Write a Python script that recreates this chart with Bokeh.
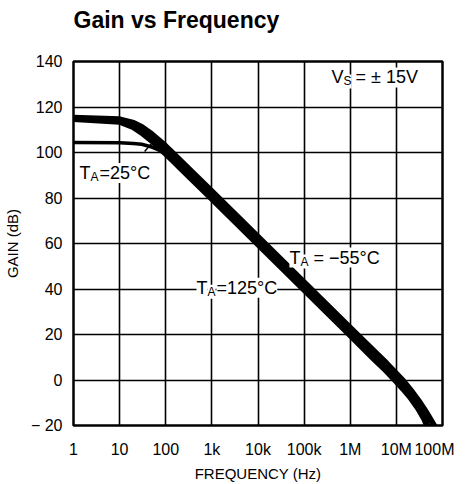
from bokeh.plotting import figure
from bokeh.models import FixedTicker, Label, Range1d
from bokeh.embed import file_html
from bokeh.resources import INLINE

# ---- data ----
freq_m55 = [1, 10, 20, 30, 50, 70, 100, 150, 200, 1e3, 1e4, 1e5, 1e6, 3e6, 6e6, 1e7, 1.4e7, 2e7, 3e7, 4e7, 5e7, 7e7, 1e8]
gain_m55 = [115.3, 114.6, 113.0, 111.2, 108.0, 105.5, 102.7, 99.3, 96.8, 82.9, 62.9, 42.9, 22.9, 13.4, 7.5, 2.7, -0.4, -4.2, -9.0, -12.8, -16.0, -21.0, -26.0]

freq_125 = [1, 10, 20, 30, 50, 70, 100, 150, 200, 1e3, 1e4, 1e5, 1e6, 3e6, 6e6, 9.5e6, 1.4e7, 2e7, 3e7, 4e7, 4.5e7, 6e7]
gain_125 = [114.7, 113.5, 111.1, 108.7, 105.1, 102.4, 99.4, 96.0, 93.5, 79.6, 59.6, 39.6, 19.6, 10.0, 4.1, -0.2, -3.9, -7.6, -12.6, -17.0, -19.5, -24.0]

freq_25 = [1, 10, 20, 30, 50, 70, 100, 150, 200, 1e3, 1e4, 1e5, 1e6, 1e7, 2e7, 3e7, 5e7]
gain_25 = [104.4, 104.3, 104.0, 103.6, 102.4, 101.1, 99.2, 96.5, 94.3, 80.8, 60.8, 40.8, 20.8, 0.5, -6.0, -11.0, -19.0]

x_ticks = [1, 10, 100, 1e3, 1e4, 1e5, 1e6, 1e7, 1e8]
x_tick_labels = ["1", "10", "100", "1k", "10k", "100k", "1M", "10M", "100M"]
y_ticks = [-20, 0, 20, 40, 60, 80, 100, 120, 140]
y_tick_labels = ["\u2212 20", "0", "20", "40", "60", "80", "100", "120", "140"]

# annotation texts and anchors (freq, gain)
ann_main = ["T", "T", "T", "V"]
ann_sub = ["A", "A", "A", "S"]
ann_rest = ["=25\u00b0C", "= \u221255\u00b0C", "=125\u00b0C", "= \u00b1 15V"]
ann_gap = [0, 4, 0, 3]
ann_x = [1.35, 48e3, 464, 393e3]
ann_y = [91.0, 53.8, 40.6, 133.0]

leader_x = [34.8, 49.0]
leader_y = [100.4, 103.9]

FONT = "Liberation Sans"

p = figure(
    frame_width=369, frame_height=364,
    x_axis_type="log",
    x_range=Range1d(1, 1e8), y_range=Range1d(-20, 140),
    output_backend="svg", toolbar_location=None,
    min_border_left=72, min_border_right=12, min_border_top=0, min_border_bottom=0,
    background_fill_color="white", border_fill_color="white",
    margin=(-25, 0, 0, 0),
)

p.title.text = "Gain vs Frequency"
p.title.text_font = FONT
p.title.text_font_style = "bold"
p.title.text_font_size = "23px"
p.title.text_color = "black"
p.title.align = "left"
p.title.offset = 0
p.title.standoff = 58
p.title.text_line_height = 1.0

p.xaxis.ticker = FixedTicker(ticks=x_ticks, minor_ticks=[])
p.xaxis.major_label_overrides = {t: l for t, l in zip(x_ticks, x_tick_labels)}
p.yaxis.ticker = FixedTicker(ticks=y_ticks, minor_ticks=[])
p.yaxis.major_label_overrides = {t: l for t, l in zip(y_ticks, y_tick_labels)}

p.xaxis.axis_label = "FREQUENCY (Hz)"
p.yaxis.axis_label = "GAIN (dB)"

for ax in (p.xaxis, p.yaxis):
    ax.axis_line_color = None
    ax.major_tick_line_color = None
    ax.minor_tick_line_color = None
    ax.major_tick_out = 0
    ax.major_tick_in = 0
    ax.major_label_text_font = FONT
    ax.major_label_text_font_size = "16px"
    ax.major_label_text_color = "black"
    ax.axis_label_text_font = FONT
    ax.axis_label_text_font_size = "15px"
    ax.axis_label_text_font_style = "normal"
    ax.axis_label_text_color = "black"

p.xaxis.major_label_standoff = 15
p.xaxis.axis_label_standoff = 4
p.yaxis.major_label_standoff = 11
p.yaxis.axis_label_standoff = 7

for g in (p.xgrid, p.ygrid):
    g.grid_line_color = "black"
    g.grid_line_width = 1.6
    g.grid_line_alpha = 1.0
p.xgrid.ticker = FixedTicker(ticks=x_ticks, minor_ticks=[])
p.ygrid.ticker = FixedTicker(ticks=y_ticks, minor_ticks=[])

p.outline_line_color = "black"
p.outline_line_width = 2.5

p.line(freq_25, gain_25, line_width=3.5, color="black", line_join="round")
p.line(freq_125, gain_125, line_width=6, color="black", line_join="round")
p.line(freq_m55, gain_m55, line_width=6, color="black", line_join="round")

p.segment(x0=[leader_x[0]], y0=[leader_y[0]], x1=[leader_x[1]], y1=[leader_y[1]],
          line_width=1.5, color="black")

for m, s, r, gap, x, y in zip(ann_main, ann_sub, ann_rest, ann_gap, ann_x, ann_y):
    w = 11 if m == "T" else 12
    p.add_layout(Label(x=x, y=y, text=m, text_font=FONT, text_font_size="18px",
                       text_baseline="alphabetic", text_color="black",
                       background_fill_color="white"))
    p.add_layout(Label(x=x, y=y, x_offset=w, y_offset=-4, text=s, text_font=FONT,
                       text_font_size="12px", text_baseline="alphabetic", text_color="black",
                       background_fill_color="white"))
    p.add_layout(Label(x=x, y=y, x_offset=w + 9 + gap, text=r, text_font=FONT,
                       text_font_size="18px", text_baseline="alphabetic", text_color="black",
                       background_fill_color="white"))

open("out.html", "w").write(file_html(p, INLINE))
